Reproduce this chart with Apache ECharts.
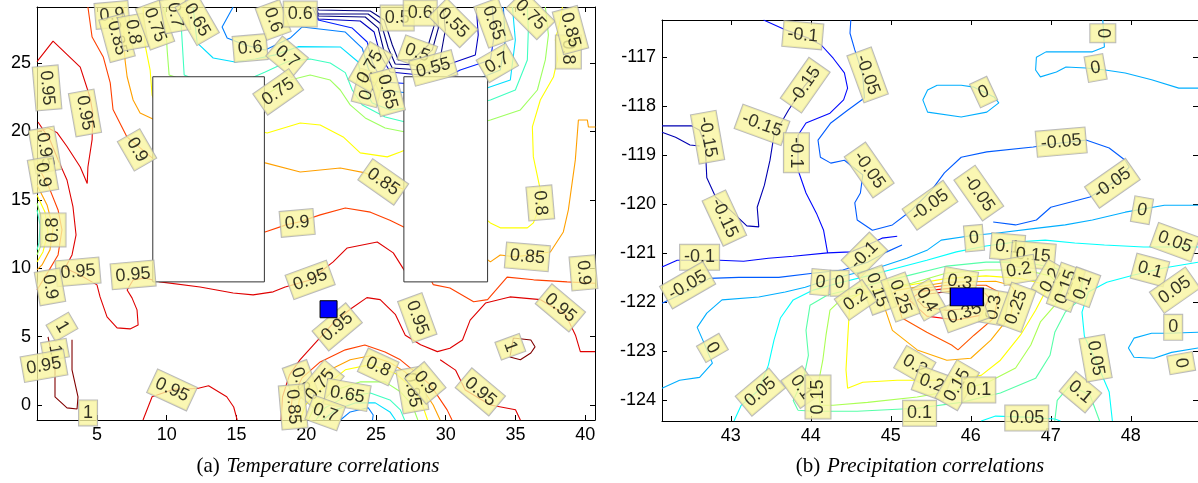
<!DOCTYPE html>
<html>
<head>
<meta charset="utf-8">
<script src="https://cdn.jsdelivr.net/npm/echarts@6/dist/echarts.min.js"></script>
<style>
html,body{margin:0;padding:0;background:#fff}
#chart{width:1198px;height:483px}
</style>
</head>
<body>
<div id="chart"></div>
<script>
// ---- (a) temperature correlations : contour polylines per level ----
const tC100 = [
  [[1.49,4.98],[1.99,2.56],[1.99,0.59],[2.85,-0.21],[3.57,-0.29],[3.64,0.59],[3.21,2.56],[3.21,4.76]],
  [[34.85,4.9],[36.1,4.75],[36.4,4.25],[36.1,3.8],[35.35,3.3],[34.6,3.5],[34.85,4.9]]
];
const tC095 = [
  [[0.7,25.1],[1.85,26.6],[3.8,24.7],[4.5,22.5],[4.7,21.35],[4.65,19.4],[4.35,17.4],[4.3,16.2],[3.8,17.4],[2.85,18.9],[2.15,19.9],[1.5,20.25],[0.75,20.0]],
  [[0.77,20.69],[1.63,19.38],[2.21,17.92],[2.85,16.45],[3.28,14.48],[3.5,12.43],[3.21,10.97],[2.71,10.02],[3.78,9.51],[5.0,8.78],[5.22,7.9],[5.72,6.44],[6.44,5.64],[7.37,5.56],[7.95,5.85],[7.87,6.95],[7.51,7.83],[7.16,8.41],[7.59,9.14],[8.45,9.29],[9.52,9.0],[12.39,8.63],[14.76,8.19],[16.19,8.05],[17.63,8.27],[18.49,8.63],[20.28,9.14],[21.93,10.46],[22.94,11.48],[25.09,11.92],[26.24,11.12],[27.1,9.73],[29.0,9.3]],
  [[18.2,-1.1],[18.3,0.6],[18.8,2.2],[19.55,3.3],[21.95,6.0],[23.15,7.0],[24.35,7.85],[25.3,7.7],[26.4,6.6],[27.1,5.1],[28.2,4.4],[29.4,3.9],[30.3,4.15],[31.2,4.75],[31.75,6.2],[32.85,7.45],[34.6,7.9],[36.8,7.7],[38.6,6.6],[39.3,5.1],[39.65,3.9],[40.7,3.9]],
  [[29.6,3.3],[30.7,2.55],[31.4,1.1],[33.2,0.0],[35.0,-0.35],[35.35,-1.1]],
  [[8.3,-1.1],[8.95,0.6],[10.5,1.15],[12.2,1.2],[13.0,1.4],[14.3,0.6],[14.8,-0.15],[15.05,-1.1]]
];
const tC090 = [
  [[4.35,29.1],[4.65,26.9],[5.45,25.45],[5.95,23.55],[6.15,21.6],[7.15,19.6],[9.15,17.9],[13,15],[17.05,12.65],[18.5,13.15],[19.55,13.4],[21.0,13.9],[22.8,14.4],[24.6,14.1],[26.0,13.5],[27.1,12.95],[29.1,8.8],[30.3,8.55],[32.0,7.55],[33.0,7.7],[34.4,9.35],[36.3,9.15],[38.7,9.0],[40.7,8.9]],
  [[0.7,17.55],[1.49,16.09],[2.21,14.26],[2.49,12.8],[2.21,10.97],[1.49,9.73],[0.7,8.41]],
  [[18.8,-1.1],[19.0,0.52],[19.7,1.98],[21.0,3.15],[22.8,4.03],[24.2,4.39],[25.65,3.88],[26.75,3.3],[27.8,2.42],[28.9,1.47],[30.1,-0.36],[30.45,-1.1]]
];
const tC085 = [
  [[6.9,29.1],[6.94,26.32],[7.01,25.23],[7.16,24.0],[7.59,22.3],[8.09,21.35],[9.16,20.84],[13,19.5],[17.06,17.7],[19.57,17.04],[22.44,17.33],[24.23,16.97],[25.31,16.45],[27.1,15.72],[30,13],[33.2,10.46],[33.91,10.97],[34.99,10.83],[37.5,11.19],[38.43,12.65],[38.79,14.26],[38.94,15.36],[39.29,17.92],[39.51,20.84],[40.15,20.84],[40.23,20.33],[40.73,20.33]],
  [[0.7,16.09],[1.42,14.63],[1.85,12.95],[1.63,11.34],[1.06,10.24],[0.7,9.88]],
  [[19.3,-1.1],[19.5,0.37],[20.3,1.61],[21.7,2.57],[23.15,3.3],[24.6,3.6],[26.0,3.1],[27.1,2.4],[28.2,1.4],[29.1,0.0],[29.6,-1.1]]
];
const tC080 = [
  [[8.3,29.1],[8.45,26.32],[8.81,24.49],[8.95,22.67],[9.16,22.15],[13,21],[17.2,19.89],[19.57,20.62],[21.0,20.47],[22.65,19.6],[23.87,18.43],[25.81,18.14],[26.74,18.5],[27.1,18.65],[30,16],[33.2,13.31],[33.91,12.95],[35.85,12.95],[36.28,13.31],[36.64,14.26],[36.78,15.72],[36.28,18.14],[36.21,20.33],[36.78,22.3],[37.72,23.98],[38.0,25.23],[37.86,26.69],[38.22,28.15],[38.36,29.1]],
  [[0.7,15.36],[1.27,14.11],[1.49,12.65],[1.13,11.19],[0.7,10.46]],
  [[19.55,-1.1],[19.95,0.0],[21.0,1.1],[22.8,2.57],[24.6,2.95],[26.4,2.3],[27.45,1.4],[28.2,0.37],[28.7,-1.1]]
];
const tC075 = [
  [[9.88,29.1],[9.9,28.3],[10.03,25.96],[10.17,24.13],[13.5,23.0],[17.06,22.67],[18.85,23.76],[20.28,24.13],[21.72,23.76],[22.44,23.03],[23.15,21.94],[24.23,20.99],[25.66,20.25],[27.1,19.96],[30,20],[33.2,20.84],[35.35,21.57],[36.57,23.03],[37.14,25.23],[37.36,27.05],[37.14,29.1]],
  [[0.7,14.77],[1.06,13.53],[1.06,11.85],[0.7,10.97]],
  [[20.15,-1.1],[20.65,0.0],[22.1,1.1],[23.9,1.69],[25.65,1.69],[26.75,0.96],[27.6,0.0],[28.0,-1.1]]
];
const tC070 = [
  [[10.96,29.1],[11.1,26.69],[11.25,24.13],[14.0,23.0],[17.06,24.35],[18.64,25.1],[20.28,25.3],[21.72,25.0],[22.8,24.3],[23.3,23.03],[24.02,21.94],[25.66,21.06],[27.1,20.69],[30,21.5],[33.2,22.3],[34.99,23.03],[35.85,25.23],[35.92,27.42],[35.85,29.1]],
  [[0.7,14.26],[0.92,13.16],[0.84,11.85],[0.7,11.34]],
  [[20.7,-1.1],[21.35,-0.21],[22.8,0.59],[24.6,0.88],[26.0,0.37],[26.75,-0.36],[27.05,-1.1]]
];
const tC065 = [
  [[11.89,29.1],[12.18,26.47],[13.33,25.37],[14.9,25.08],[16.34,25.3],[17.77,25.6],[19.42,26.2],[22.44,26.18],[23.73,25.08],[24.01,23.4],[24.73,22.08],[26.02,21.57],[28.89,21.94],[32.12,22.89],[34.63,23.76],[34.99,26.69],[34.78,29.1]],
  [[21.2,-1.1],[22.1,-0.36],[23.5,0.15],[24.95,0.15],[26.0,-0.51],[26.4,-1.1]]
];
const tC060 = [
  [[14.76,29.1],[13.97,27.64],[14.33,26.83],[15.62,26.32],[17.06,25.96],[18.85,26.83],[19.71,27.64],[22.8,27.27],[24.01,26.1],[24.44,24.64],[25.16,23.03],[28.89,22.67],[31.76,23.62],[33.91,24.49],[34.27,26.69],[34.13,29.1]],
  [[22.45,-1.1],[23.15,-0.51],[24.45,-0.21],[24.8,-0.73],[24.75,-1.1]]
];
const tC055 = [[[20.43,29.1],[20.86,28.15],[23.3,27.56],[24.37,26.54],[24.73,25.08],[25.45,23.62],[28.89,23.4],[31.04,24.49],[33.2,25.23],[33.48,27.05],[33.34,29.1]]];
const tC050 = [[[20.64,29.1],[20.86,28.22],[23.87,28.08],[24.87,27.27],[25.31,25.59],[26.02,24.35],[28.17,24.13],[30.68,25.08],[32.12,25.59],[32.33,27.05],[32.19,29.1]]];
const tC045 = [[[20.64,29.1],[20.86,28.44],[24.23,28.37],[25.16,27.56],[25.59,25.81],[26.17,24.64],[28.17,24.49],[29.61,25.37],[29.97,27.42],[29.82,29.1]]];
const tC040 = [[[20.71,29.1],[20.86,28.59],[24.44,28.59],[25.38,27.86],[25.88,26.1],[26.38,24.93],[27.82,24.86],[29.04,25.96],[29.47,27.56],[29.39,29.1]]];
const tC035 = [[[20.79,29.1],[20.86,28.88],[24.59,28.81],[25.59,28.15],[26.17,26.32],[26.6,25.23],[27.6,25.23],[28.75,26.32],[29.18,27.78],[29.11,29.1]]];

const tLevels = [1.0, 0.95, 0.9, 0.85, 0.8, 0.75, 0.7, 0.65, 0.6, 0.55, 0.5, 0.45, 0.4, 0.35];
const tContours = [tC100, tC095, tC090, tC085, tC080, tC075, tC070, tC065, tC060, tC055, tC050, tC045, tC040, tC035];

// contour labels: x, y, text, angle
const tLabels = [
  [6.08,28.52,'0.9',5],[6.44,26.83,'0.85',-75],[7.59,27.27,'0.8',-80],[9.16,27.78,'0.75',-70],
  [10.6,28.52,'0.7',-80],[12.18,28.15,'0.65',-60],[15.98,26.1,'0.6',5],[18.63,25.45,'0.7',-40],
  [17.63,28.15,'0.6',-70],[19.57,28.59,'0.6',0],[26.52,28.3,'0.5',0],[28.17,28.66,'0.6',0],
  [30.54,27.93,'0.55',-45],[33.41,27.93,'0.65',-70],[36.07,28.52,'0.75',-45],[38.79,25.81,'0.8',-90],
  [38.94,27.42,'0.85',-75],[24.44,23.18,'0.7',75],[24.59,24.71,'0.75',60],[27.96,25.74,'0.5',-20],
  [29.11,24.64,'0.55',15],[33.7,25.01,'0.7',30],[25.81,22.89,'0.65',-75],[25.52,16.31,'0.85',-35],
  [36.78,14.77,'0.8',-85],[17.99,22.89,'0.75',35],[7.87,18.65,'0.9',-60],[4.14,21.35,'0.95',-80],
  [1.42,23.18,'0.95',-85],[1.27,18.65,'0.95',-80],[1.13,16.82,'0.9',-80],[1.85,12.8,'0.8',90],
  [3.64,9.73,'0.95',5],[7.59,9.51,'0.95',5],[1.63,8.63,'0.9',-80],[2.49,5.71,'1',-60],
  [1.99,4.03,'1',-80],[1.2,2.86,'0.95',10],[10.38,1.1,'0.95',-25],[4.36,-0.58,'1',0],
  [19.35,13.31,'0.9',5],[20.28,9.14,'0.95',20],[22.22,5.71,'0.95',40],[27.96,6.37,'0.95',-70],
  [35.85,10.83,'0.85',-5],[39.87,9.66,'0.9',-85],[38.22,7.1,'0.95',-40],[34.63,4.25,'1',-70],
  [25.16,2.78,'0.8',-25],[27.6,1.1,'0.85',-80],[28.53,1.61,'0.9',-50],[32.48,0.96,'0.95',-40],
  [19.57,1.83,'0.9',-70],[21.0,1.47,'0.75',50],[22.94,0.74,'0.65',-10],[19.06,-0.14,'0.85',-85],
  [21.36,-0.58,'0.7',-20]
];
const tRects = [[9,17,9,24],[27,33,9,24]];   // xmin, xmax, ymin, ymax
const tStation = [21.6,7.0];
const tXTicks = [5,10,15,20,25,30,35,40];
const tYTicks = [0,5,10,15,20,25];

// ---- (b) precipitation correlations ----
const pCm15 = [
  [[42.14,-118.41],[42.51,-118.41],[42.61,-118.5],[42.68,-118.8],[42.7,-119.47],[42.81,-119.86],[43.02,-120.17],[43.2,-120.45],[43.35,-120.47],[43.33,-120.07],[43.42,-119.62],[43.49,-119.11],[43.54,-118.6],[43.72,-118.09],[43.92,-117.6],[44.07,-117.31]],
  [[42.14,-118.54],[42.31,-118.64],[42.49,-118.8],[42.61,-118.82]]
];
const pCm10 = [
  [[43.41,-116.25],[43.68,-116.45],[43.97,-116.62],[44.13,-116.76],[44.28,-117.03],[44.42,-117.33],[44.46,-117.64],[44.41,-117.88],[44.24,-118.15],[43.94,-118.35],[43.84,-118.6],[43.84,-119.31],[43.94,-119.78],[44.07,-120.19],[44.16,-120.54],[44.21,-121.0],[44.5,-120.98],[44.71,-120.84],[44.89,-120.7],[45.08,-120.66]],
  [[42.14,-121.29],[42.33,-121.15],[42.86,-121.15],[43.16,-121.17],[43.47,-121.11],[43.78,-121.07],[44.21,-121.0]]
];
const pCm05 = [
  [[44.5,-116.25],[44.49,-116.52],[44.55,-116.86],[44.65,-117.37],[44.67,-117.84],[44.46,-118.09],[44.25,-118.35],[44.09,-118.7],[44.12,-119.05],[44.25,-119.17],[44.42,-119.11],[44.65,-119.41],[44.62,-119.78],[44.55,-119.98],[44.58,-120.33],[44.77,-120.54],[45.02,-120.43],[45.26,-120.13],[45.51,-119.72],[45.67,-119.37],[45.88,-119.05],[46.2,-118.94],[46.78,-118.84],[47.12,-118.76],[47.44,-118.7],[47.73,-118.86],[47.93,-119.11],[47.98,-119.25],[47.79,-119.56],[47.49,-119.86],[47.0,-120.07],[46.82,-120.33],[46.56,-120.43],[46.28,-120.37]],
  [[42.14,-122.03],[42.49,-121.76],[42.73,-121.52],[43.1,-121.5],[43.6,-121.5],[44.05,-121.41],[44.4,-121.35],[44.71,-121.19],[44.95,-120.98],[45.14,-120.84]]
];
const pC00 = [
  [[47.65,-116.25],[47.67,-116.8],[47.52,-116.9],[46.94,-116.9],[46.82,-117.01],[46.81,-117.27],[46.87,-117.41],[47.07,-117.31],[47.19,-117.21],[47.44,-117.23],[47.68,-117.27],[47.93,-117.33],[48.26,-117.47],[48.6,-117.64],[48.84,-117.64]],
  [[45.58,-117.58],[45.46,-117.68],[45.4,-117.88],[45.46,-118.13],[45.88,-118.23],[46.2,-118.13],[46.35,-117.94],[46.29,-117.82],[46.04,-117.62],[45.88,-117.58],[45.58,-117.58]],
  [[42.14,-123.76],[42.36,-123.6],[42.61,-123.54],[42.77,-123.25],[42.65,-122.78],[42.58,-122.52],[42.7,-122.23],[42.89,-121.96],[43.35,-121.9],[43.68,-121.8],[43.93,-121.7],[44.12,-121.6],[44.46,-121.45],[44.83,-121.31],[45.2,-121.11],[45.46,-120.94],[45.63,-120.74],[46.04,-120.64],[46.31,-120.6],[46.81,-120.5],[47.18,-120.43],[47.52,-120.33],[47.93,-120.17],[48.42,-120.03],[48.84,-120.03]],
  [[48.84,-122.62],[48.47,-122.64],[48.26,-122.64],[48.04,-122.74],[47.97,-122.94],[48.04,-123.13],[48.29,-123.15],[48.51,-123.03],[48.84,-122.94]]
];
const pC05 = [
  [[43.04,-124.43],[43.13,-124.11],[43.35,-123.8],[43.47,-123.29],[43.54,-122.78],[43.62,-122.33],[43.78,-121.96],[44.03,-121.76],[44.34,-121.62],[44.71,-121.47],[45.08,-121.31],[45.45,-121.15],[45.82,-120.98],[46.19,-120.86],[46.56,-120.78],[46.93,-120.74],[47.3,-120.8],[47.67,-120.84],[48.16,-120.88],[48.84,-120.88]],
  [[47.77,-124.43],[47.73,-123.84],[47.56,-123.19],[47.42,-122.7],[47.39,-122.21],[47.47,-121.8],[47.7,-121.6],[48.04,-121.45],[48.41,-121.31],[48.84,-121.19]],
  [[46.13,-124.43],[46.31,-124.33],[46.68,-124.35],[47.05,-124.39],[47.12,-124.43]]
];
const pC10 = [
  [[43.84,-124.21],[43.78,-124.01],[43.91,-123.56],[43.97,-123.09],[43.94,-122.58],[43.99,-122.07],[44.21,-121.86],[44.71,-121.66],[45.2,-121.47],[45.7,-121.27],[46.19,-121.19],[46.68,-121.19],[47.05,-121.31],[47.4,-121.56],[47.36,-121.96],[47.18,-122.21],[47.05,-122.62],[46.99,-123.09],[46.81,-123.56],[46.37,-123.86],[45.88,-124.05],[45.33,-124.17],[44.58,-124.23],[44.03,-124.23],[43.84,-124.21]],
  [[47.05,-124.43],[47.08,-124.01],[47.24,-123.7],[47.49,-123.9],[47.61,-124.43]]
];
const pC15 = [[[44.12,-124.11],[44.09,-123.7],[44.15,-123.19],[44.19,-122.68],[44.24,-122.17],[44.4,-121.92],[44.83,-121.76],[45.26,-121.62],[45.7,-121.41],[46.19,-121.35],[46.68,-121.35],[46.99,-121.47],[47.15,-121.72],[47.05,-122.07],[46.87,-122.41],[46.75,-122.88],[46.56,-123.35],[46.19,-123.66],[45.82,-123.8],[45.33,-123.94],[44.71,-124.05],[44.28,-124.11],[44.12,-124.11]]];
const pC20 = [[[44.49,-121.96],[44.65,-121.8],[45.08,-121.7],[45.7,-121.52],[46.19,-121.47],[46.62,-121.52],[46.87,-121.62],[46.93,-121.8],[46.81,-122.17],[46.62,-122.68],[46.37,-123.19],[46.13,-123.5],[45.7,-123.6],[45.08,-123.6],[44.65,-123.64],[44.46,-123.76],[44.44,-123.39],[44.46,-122.78],[44.49,-121.96]]];
const pC25 = [[[44.89,-121.96],[45.08,-121.76],[45.7,-121.6],[46.31,-121.58],[46.5,-121.66],[46.56,-121.8],[46.5,-122.27],[46.25,-122.78],[46.0,-123.15],[45.7,-123.19],[45.33,-122.98],[45.02,-122.58],[44.89,-121.96]]];
const pC30 = [[[45.08,-121.96],[45.26,-121.76],[45.7,-121.66],[46.19,-121.66],[46.35,-121.8],[46.29,-122.33],[46.04,-122.68],[45.84,-122.98],[45.76,-122.88],[45.45,-122.62],[45.14,-122.33],[45.08,-121.96]]];
const pC35 = [[[45.23,-121.96],[45.39,-121.78],[45.76,-121.72],[46.13,-121.74],[46.23,-121.92],[46.13,-122.27],[45.82,-122.37],[45.45,-122.29],[45.23,-121.96]]];
const pC40 = [[[45.33,-121.96],[45.47,-121.84],[45.76,-121.78],[46.04,-121.8],[46.13,-121.96],[46.0,-122.13],[45.7,-122.17],[45.42,-122.11],[45.33,-121.96]]];

const pLevels = [-0.15, -0.1, -0.05, 0, 0.05, 0.1, 0.15, 0.2, 0.25, 0.3, 0.35, 0.4];
const pContours = [pCm15, pCm10, pCm05, pC00, pC05, pC10, pC15, pC20, pC25, pC30, pC35, pC40];

const pLabels = [
  [43.9,-116.56,'-0.1',-5],[43.93,-117.58,'-0.15',55],[44.71,-117.37,'-0.05',-70],[42.71,-118.64,'-0.15',-80],
  [43.39,-118.39,'-0.15',-20],[43.82,-118.96,'-0.1',-90],[44.73,-119.31,'-0.05',-55],[42.92,-120.29,'-0.15',-65],
  [47.65,-116.52,'0',-90],[47.56,-117.23,'0',10],[46.16,-117.72,'0',25],[47.13,-118.74,'-0.05',5],
  [47.77,-119.58,'-0.05',35],[46.1,-119.78,'-0.05',-55],[45.49,-120.03,'-0.05',35],[48.14,-120.13,'0',-10],
  [42.61,-121.09,'-0.1',0],[42.46,-121.66,'-0.05',30],[42.77,-122.94,'0',-60],[43.37,-123.84,'0.05',40],
  [43.88,-123.74,'0.1',-55],[44.09,-123.94,'0.15',90],[44.67,-121.05,'-0.1',45],[44.12,-121.6,'0',-5],
  [44.36,-121.62,'0',0],[44.83,-121.76,'0.15',-70],[44.56,-121.96,'0.2',35],[46.04,-120.7,'0',5],
  [46.46,-120.88,'0.1',-5],[46.78,-121.05,'0.15',-5],[46.6,-121.35,'0.2',10],[47.0,-121.56,'0.2',60],
  [47.19,-121.7,'0.15',70],[47.4,-121.7,'0.1',70],[45.86,-121.6,'0.3',-10],[45.45,-121.96,'0.4',-60],
  [46.29,-122.11,'0.3',80],[46.57,-122.11,'0.25',70],[45.12,-121.9,'0.25',-70],[45.92,-122.23,'0.35',20],
  [45.3,-123.29,'0.2',-30],[45.51,-123.66,'0.2',-20],[45.83,-123.7,'0.15',60],[46.1,-123.8,'0.1',0],
  [45.36,-124.27,'0.1',0],[46.7,-124.37,'0.05',0],[47.37,-123.84,'0.1',-40],[47.56,-123.15,'0.05',-80],
  [48.24,-121.35,'0.1',-15],[48.55,-120.78,'0.05',-20],[48.55,-121.76,'0.05',35],[48.53,-122.52,'0',0],
  [48.63,-123.25,'0',-80]
];
const pStation = [45.95,-121.9];
const pXTicks = [43,44,45,46,47,48];
const pYTicks = [-124,-123,-122,-121,-120,-119,-118,-117];

// ---- drawing ----
const sans = 'Liberation Sans, Arial, Helvetica, sans-serif';
const serif = 'Liberation Serif, Times New Roman, serif';

function jet(t) {
  t = Math.max(0, Math.min(1, t));
  const c = v => Math.round(255 * Math.max(0, Math.min(1, v)));
  return 'rgb(' + c(1.5 - Math.abs(4 * t - 3)) + ',' + c(1.5 - Math.abs(4 * t - 2)) + ',' + c(1.5 - Math.abs(4 * t - 1)) + ')';
}

const series = [];

function addContours(levels, contours, axis, toT) {
  levels.forEach((lv, i) => {
    const col = jet(toT(lv));
    contours[i].forEach(pts => {
      series.push({
        type: 'line', xAxisIndex: axis, yAxisIndex: axis, data: pts,
        symbol: 'none', showSymbol: false, silent: true, clip: true, z: 2,
        lineStyle: { color: col, width: 1.1 }, itemStyle: { color: col }
      });
    });
  });
}
addContours(tLevels, tContours, 0, lv => (lv - 0.467) / 0.533);
addContours(pLevels, pContours, 2, lv => (lv + 0.18) / 0.608);

// white boxes on the temperature map
series.push({
  type: 'custom', xAxisIndex: 0, yAxisIndex: 0, z: 3, silent: true, data: tRects,
  renderItem: (params, api) => {
    const a = api.coord([api.value(0), api.value(3)]);
    const b = api.coord([api.value(1), api.value(2)]);
    return {
      type: 'rect',
      shape: { x: a[0], y: a[1], width: b[0] - a[0], height: b[1] - a[1] },
      style: { fill: '#fff', stroke: '#333', lineWidth: 1 }
    };
  }
});

function labelSeries(list, axis) {
  return {
    type: 'scatter', xAxisIndex: axis, yAxisIndex: axis, z: 4, silent: true,
    symbolSize: 0,
    data: list.map(d => ({ value: [d[0], d[1]], label: { formatter: d[2], rotate: d[3] } })),
    label: {
      show: true, position: 'inside', color: '#000', fontSize: 18, fontFamily: sans,
      backgroundColor: '#f9f5a0', borderColor: '#a9a9a9', borderWidth: 1, padding: [4, 4, 3, 4]
    }
  };
}
series.push(labelSeries(tLabels, 0));
series.push(labelSeries(pLabels, 2));

series.push({
  type: 'scatter', xAxisIndex: 0, yAxisIndex: 0, z: 6, silent: true,
  symbol: 'rect', symbolSize: [17, 17], data: [tStation],
  itemStyle: { color: '#0000ff', borderColor: '#000', borderWidth: 1, opacity: 1 }
});
series.push({
  type: 'scatter', xAxisIndex: 2, yAxisIndex: 2, z: 6, silent: true,
  symbol: 'rect', symbolSize: [33, 18], data: [pStation],
  itemStyle: { color: '#0000ff', borderColor: '#000', borderWidth: 1, opacity: 1 }
});

function xAx(grid, min, max, ticks, pos) {
  return {
    gridIndex: grid, type: 'value', min: min, max: max, position: pos,
    axisLine: { show: true, onZero: false, lineStyle: { color: '#000', width: 1 } },
    axisTick: { show: true, inside: true, length: 5, customValues: ticks, lineStyle: { color: '#000' } },
    axisLabel: { show: pos === 'bottom', customValues: ticks, color: '#000', fontSize: 18, fontFamily: sans, margin: 6 },
    splitLine: { show: false }
  };
}
function yAx(grid, min, max, ticks, pos) {
  return {
    gridIndex: grid, type: 'value', min: min, max: max, position: pos,
    axisLine: { show: true, onZero: false, lineStyle: { color: '#000', width: 1 } },
    axisTick: { show: true, inside: true, length: 5, customValues: ticks, lineStyle: { color: '#000' } },
    axisLabel: { show: pos === 'left', customValues: ticks, color: '#000', fontSize: 18, fontFamily: sans, margin: 6 },
    splitLine: { show: false }
  };
}

const chart = echarts.init(document.getElementById('chart'));
chart.setOption({
  animation: false,
  backgroundColor: '#fff',
  grid: [
    { left: 37, top: 7, width: 558, height: 413 },
    { left: 662, top: 20, width: 543, height: 401 }
  ],
  xAxis: [
    xAx(0, 0.7, 40.7, tXTicks, 'bottom'),
    xAx(0, 0.7, 40.7, tXTicks, 'top'),
    xAx(1, 42.14, 48.84, pXTicks, 'bottom'),
    xAx(1, 42.14, 48.84, pXTicks, 'top')
  ],
  yAxis: [
    yAx(0, -1.1, 29.1, tYTicks, 'left'),
    yAx(0, -1.1, 29.1, tYTicks, 'right'),
    yAx(1, -124.43, -116.25, pYTicks, 'left'),
    yAx(1, -124.43, -116.25, pYTicks, 'right')
  ],
  graphic: [
    {
      type: 'text', x: 318, y: 466, silent: true,
      style: {
        text: '{n|(a)}  {i|Temperature correlations}', align: 'center', verticalAlign: 'middle',
        rich: {
          n: { fontFamily: serif, fontSize: 21, fill: '#000' },
          i: { fontFamily: serif, fontSize: 21, fontStyle: 'italic', fill: '#000' }
        }
      }
    },
    {
      type: 'text', x: 920, y: 466, silent: true,
      style: {
        text: '{n|(b)}  {i|Precipitation correlations}', align: 'center', verticalAlign: 'middle',
        rich: {
          n: { fontFamily: serif, fontSize: 21, fill: '#000' },
          i: { fontFamily: serif, fontSize: 21, fontStyle: 'italic', fill: '#000' }
        }
      }
    }
  ],
  series: series
});
</script>
</body>
</html>
